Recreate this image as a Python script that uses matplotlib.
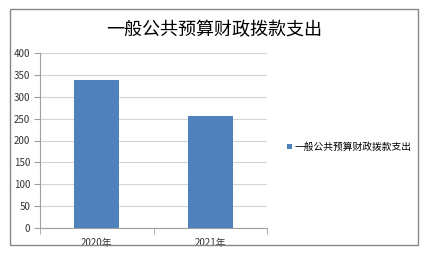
import matplotlib.pyplot as plt
from matplotlib.patches import Rectangle

plt.rcParams['font.family'] = ['Noto Sans CJK SC', 'DejaVu Sans']

## Data
categories = ['2020年', '2021年']
values = [338, 256]
series_name = '一般公共预算财政拨款支出'
title = '一般公共预算财政拨款支出'
yticks = [0, 50, 100, 150, 200, 250, 300, 350, 400]

fig = plt.figure(figsize=(4.39, 2.68), dpi=100)
# outer chart border
fig.patches.append(Rectangle((10/439, 1-245/268), 408/439, 236/268,
                             transform=fig.transFigure, fill=False,
                             edgecolor='#878787', linewidth=1.0))
ax = fig.add_axes([40/439, 1-228/268, 227/439, 175/268])
x = range(len(categories))
ax.bar(x, values, width=0.4, color='#4f81bd', label=series_name, zorder=3)
ax.set_xlim(-0.5, 1.5)
ax.set_ylim(0, 400)
ax.set_yticks(yticks)
ax.set_xticks(list(x))
ax.set_xticklabels(categories)
ax.set_xticks([-0.5, 0.5, 1.5], minor=True)
ax.tick_params(axis='x', which='major', length=0, labelsize=7, pad=7, colors='#333333')
ax.tick_params(axis='x', which='minor', length=4, color='#a0a0a0')
ax.tick_params(axis='y', length=4, labelsize=7, color='#a0a0a0', labelcolor='#333333', pad=3)
ax.grid(axis='y', color='#d4d4d4', linewidth=0.8, zorder=0)
for s in ['top', 'right']:
    ax.spines[s].set_visible(False)
for s in ['left', 'bottom']:
    ax.spines[s].set_color('#a0a0a0')
    ax.spines[s].set_linewidth(0.8)

fig.text(214/439, 1-30/268, title, ha='center', va='center', fontsize=13)
fig.legend(loc='center left', bbox_to_anchor=(278/439, 1-147/268), frameon=False,
           fontsize=7, handlelength=0.5, handleheight=0.5, handletextpad=0.3)

fig.savefig('out.png', dpi=100)
